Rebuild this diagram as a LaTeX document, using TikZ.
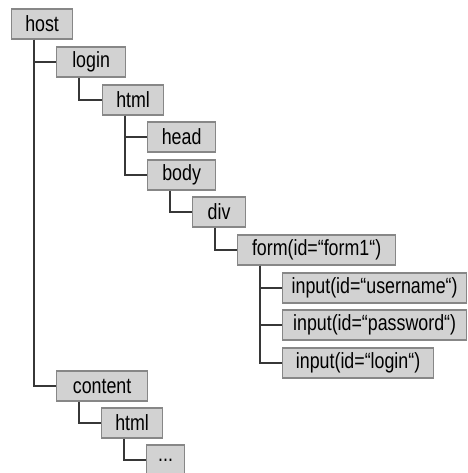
\documentclass[tikz,border=0pt]{standalone}
\usepackage{fontspec}
\setmainfont{Liberation Sans}[FakeStretch=0.81]
\usepackage{tikz}
\usetikzlibrary{arrows,shapes,trees}
\definecolor{boxfill}{RGB}{210,210,210}
\definecolor{boxline}{RGB}{135,135,135}
\definecolor{linkline}{RGB}{55,55,55}
\tikzstyle{item} = [rectangle, anchor=west, minimum height=30pt, inner sep=0pt, text centered, draw=boxline, line width=1.2pt, fill=boxfill, font=\fontsize{22}{25}\selectfont]
\tikzstyle{link} = [draw=linkline, line width=1.3pt]

\begin{document}
\begin{tikzpicture}[x=1pt,y=-1pt]
\useasboundingbox (0,0) rectangle (467,473);
\node (host)    [item, minimum width=61pt]  at (11,24)   {host};
\node (login)   [item, minimum width=69pt]  at (56,62)   {login};
\node (lhtml)   [item, minimum width=61pt]  at (102,100) {html};
\node (head)    [item, minimum width=68pt]  at (147,137) {head};
\node (body)    [item, minimum width=68pt]  at (147,175) {body};
\node (div)     [item, minimum width=53pt]  at (192,212) {div};
\node (form)    [item, minimum width=158pt] at (237,250) {form(id=“form1“)};
\node (user)    [item, minimum width=184pt] at (282,288) {input(id=“username“)};
\node (pass)    [item, minimum width=184pt] at (282,325) {input(id=“password“)};
\node (btn)     [item, minimum width=151pt] at (282,363) {input(id=“login“)};
\node (content) [item, minimum width=91pt]  at (56,386)  {content};
\node (chtml)   [item, minimum width=61pt]  at (101,423) {html};
\node (more)    [item, minimum width=38pt]  at (146,460) {...};

\draw [link] ([xshift=23pt]host.south west) |- (login.west);
\draw [link] ([xshift=23pt]host.south west) |- (content.west);
\draw [link] ([xshift=23pt]login.south west) |- (lhtml.west);
\draw [link] ([xshift=23pt]lhtml.south west) |- (head.west);
\draw [link] ([xshift=23pt]lhtml.south west) |- (body.west);
\draw [link] ([xshift=23pt]body.south west) |- (div.west);
\draw [link] ([xshift=23pt]div.south west) |- (form.west);
\draw [link] ([xshift=23pt]form.south west) |- (user.west);
\draw [link] ([xshift=23pt]form.south west) |- (pass.west);
\draw [link] ([xshift=23pt]form.south west) |- (btn.west);
\draw [link] ([xshift=23pt]content.south west) |- (chtml.west);
\draw [link] ([xshift=23pt]chtml.south west) |- (more.west);
\end{tikzpicture}
\end{document}
